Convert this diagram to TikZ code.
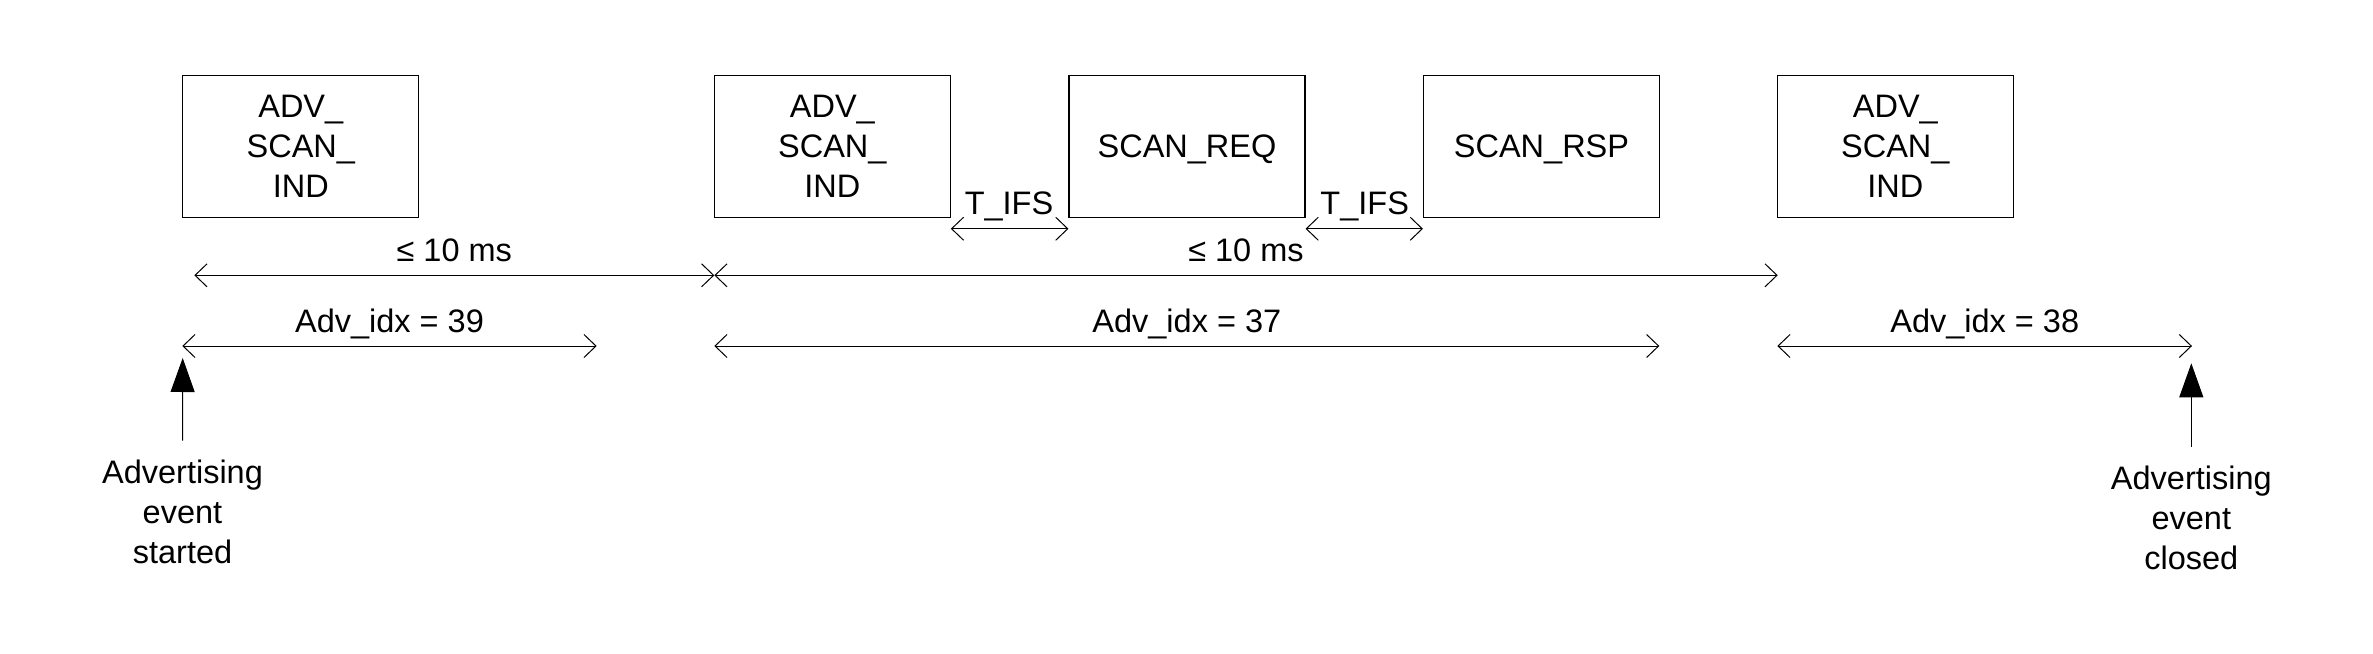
\documentclass[tikz,border=0pt]{standalone}
\usepackage{fontspec}
\setmainfont{Liberation Sans}
\usetikzlibrary{arrows.meta}
\begin{document}
\begin{tikzpicture}[x=1pt,y=-1pt,
  every node/.style={font=\fontsize{32.5}{40}\selectfont, inner sep=0pt},
  pkt/.style={draw, line width=1.1pt, minimum width=236pt, minimum height=142pt, align=center},
  onepkt/.style={pkt, text height=23pt, text depth=0pt},
  lbl/.style={anchor=base},
  dim/.style={line width=1pt, {Straight Barb[length=12pt,width=23pt]}-{Straight Barb[length=12pt,width=23pt]}},
  evarrow/.style={line width=1pt, -{Triangle[length=34pt,width=24pt]}},
  evlbl/.style={anchor=north, align=center}]
\useasboundingbox (0,0) rectangle (2373,653);
% packets
\node[pkt] (b1) at (300.8,146.2) {ADV\_\\SCAN\_\\IND};
\node[pkt] (b2) at (832.3,146.2) {ADV\_\\SCAN\_\\IND};
\node[onepkt] (b3) at (1187,146.2) {SCAN\_REQ};
\node[onepkt] (b4) at (1541.5,146.2) {SCAN\_RSP};
\node[pkt] (b5) at (1895.3,146.2) {ADV\_\\SCAN\_\\IND};
% T_IFS
\draw[dim] ([yshift=-11pt]b2.south east) -- ([yshift=-11pt]b3.south west);
\draw[dim] ([yshift=-11pt]b3.south east) -- ([yshift=-11pt]b4.south west);
\node[lbl] (tifs1) at (1009,214.3) {T\_IFS};
\node[lbl] (tifs2) at (1364.7,214.3) {T\_IFS};
% interval line
\coordinate (i0) at (194.3,275.3);
\coordinate (i1) at (714.3,275.3);
\coordinate (i2) at (1777.7,275.3);
\draw[dim] (i0) -- (i1);
\draw[dim] (i1) -- (i2);
\node[lbl] (ms1) at (454.3,261.7) {≤ 10 ms};
\node[lbl] (ms2) at (1246,261.7) {≤ 10 ms};
% adv idx lines
\coordinate (a0) at (182.3,346);
\coordinate (a1) at (596.7,346);
\coordinate (a2) at (714.3,346);
\coordinate (a3) at (1659.3,346);
\coordinate (a4) at (1777.3,346);
\coordinate (a5) at (2192,346);
\draw[dim] (a0) -- (a1);
\draw[dim] (a2) -- (a3);
\draw[dim] (a4) -- (a5);
\node[lbl] (ix39) at (389.5,332.7) {Adv\_idx = 39};
\node[lbl] (ix37) at (1186.8,332.7) {Adv\_idx = 37};
\node[lbl] (ix38) at (1984.7,332.7) {Adv\_idx = 38};
% events
\node[evlbl] (evs) at (182.5,459.5) {Advertising\\event\\started};
\node[evlbl] (evc) at (2191.3,465.5) {Advertising\\event\\closed};
\coordinate (ts) at (182.7,358);
\coordinate (tc) at (2191.3,363.3);
\draw[evarrow] ([yshift=19pt]evs.north) -- (ts);
\draw[evarrow] ([yshift=19pt]evc.north) -- (tc);
\end{tikzpicture}
\end{document}
